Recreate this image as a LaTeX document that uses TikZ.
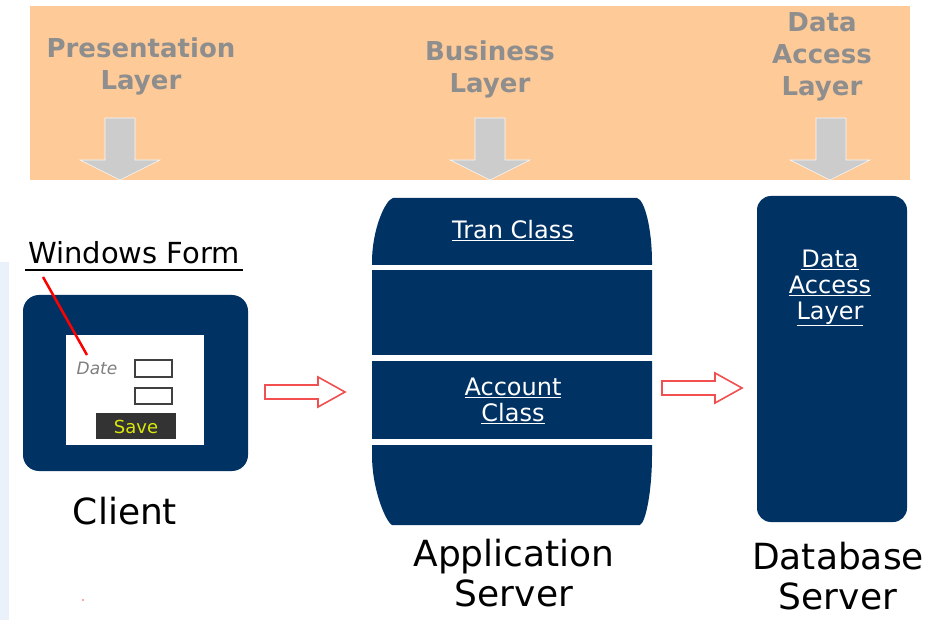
\documentclass[tikz,border=0pt]{standalone}
\usepackage{fontspec}
\setmainfont{DejaVu Sans}
\definecolor{navy}{HTML}{003263}
\definecolor{band}{HTML}{FECA98}
\definecolor{hdr}{HTML}{8E8E8E}
\definecolor{garrow}{HTML}{CCCCCC}
\definecolor{rarrow}{HTML}{F25050}
\definecolor{edge}{HTML}{EAF1FB}
\tikzset{
  hdrtext/.style={text=hdr, font=\bfseries\fontsize{26}{32}\selectfont, align=center, inner sep=0pt},
  boxtext/.style={text=white, font=\fontsize{24}{26}\selectfont, align=center, inner sep=0pt},
  captext/.style={text=black, font=\fontsize{36}{40}\selectfont, align=center, inner sep=0pt},
  grayarrow/.style={fill=garrow, draw=white!85!garrow, line width=0.6pt},
  hollowarrow/.style={fill=white, draw=rarrow, line width=1.6pt, line join=miter},
  navybox/.style={fill=navy},
}
\begin{document}
\begin{tikzpicture}[x=1pt,y=-1pt]
\useasboundingbox (0,0) rectangle (929,620);
\fill[white] (0,0) rectangle (929,620);
\fill[edge] (0,262) rectangle (9,620);
% orange band
\fill[band] (30,6) rectangle (910,180);
% header labels
\node[hdrtext] (pl) at (141,66) {Presentation\\Layer};
\node[hdrtext] (bl) at (490,69) {Business\\Layer};
\node[hdrtext] (dl) at (822,57) {Data\\Access\\Layer};
% gray arrows
\draw[grayarrow] (105,118) -- (135,118) -- (135,160) -- (160,160) -- (120,180) -- (80,160) -- (105,160) -- cycle;
\draw[grayarrow] (475,118) -- (505,118) -- (505,160) -- (530,160) -- (490,180) -- (450,160) -- (475,160) -- cycle;
\draw[grayarrow] (816,118) -- (846,118) -- (846,160) -- (870,160) -- (830,180) -- (790,160) -- (816,160) -- cycle;
% client box
\fill[navybox, rounded corners=16pt] (23,295) rectangle (248,471);
\fill[white] (66,335) rectangle (204,445);
\node[text=gray, font=\itshape\fontsize{17}{18}\selectfont, inner sep=0pt] (date) at (97,368) {Date};
\draw[black!75, line width=1.2pt] (135,360) rectangle (172,377);
\draw[black!75, line width=1.2pt] (135,388) rectangle (172,404);
\fill[black!80] (96,413) rectangle (176,439);
\node[text=yellow!85!green, font=\fontsize{18}{18}\selectfont, inner sep=0pt] (save) at (136,427) {Save};
\node[font=\fontsize{29}{30}\selectfont, inner sep=0pt] (wf) at (134,253) {Windows Form};
\draw[line width=1.2pt] (25,270) -- (243,270);
\coordinate (wfa) at (43,277);
\coordinate (wfb) at (87,355);
\draw[red, line width=2.5pt] (wfa) -- (wfb);
\node[captext] (client) at (125,511) {Client};
% application server
\fill[navybox] (393,198) -- (637,198) .. controls (645,200) and (652,230) .. (652,262) -- (652,455) .. controls (652,490) and (646,522) .. (640,525) -- (392,525) .. controls (386,522) and (372,490) .. (372,455) -- (372,262) .. controls (372,230) and (385,200) .. (393,198) -- cycle;
\fill[white] (370,265) rectangle (654,270);
\fill[white] (370,355) rectangle (654,361);
\fill[white] (370,439) rectangle (654,445);
\node[boxtext] (tran) at (513,231) {\underline{Tran Class}};
\node[boxtext] (acct) at (513,401) {\underline{Account}\\\underline{Class}};
\node[captext] (app) at (514,573) {Application\\Server};
% database server
\fill[navybox, rounded corners=14pt] (757,196) rectangle (907,522);
\node[boxtext] (dal) at (830,288) {\underline{Data}\\\underline{Access}\\\underline{Layer}};
\node[captext] (db) at (838,576) {Database\\Server};
% red hollow arrows
\draw[hollowarrow] (265,385) -- (318,385) -- (318,377) -- (345,392) -- (318,407) -- (318,399) -- (265,399) -- cycle;
\draw[hollowarrow] (662,381) -- (715,381) -- (715,373) -- (742,388) -- (715,403) -- (715,395) -- (662,395) -- cycle;
% small red dot
\fill[red!70] (83,600) circle (0.8);
\end{tikzpicture}
\end{document}
